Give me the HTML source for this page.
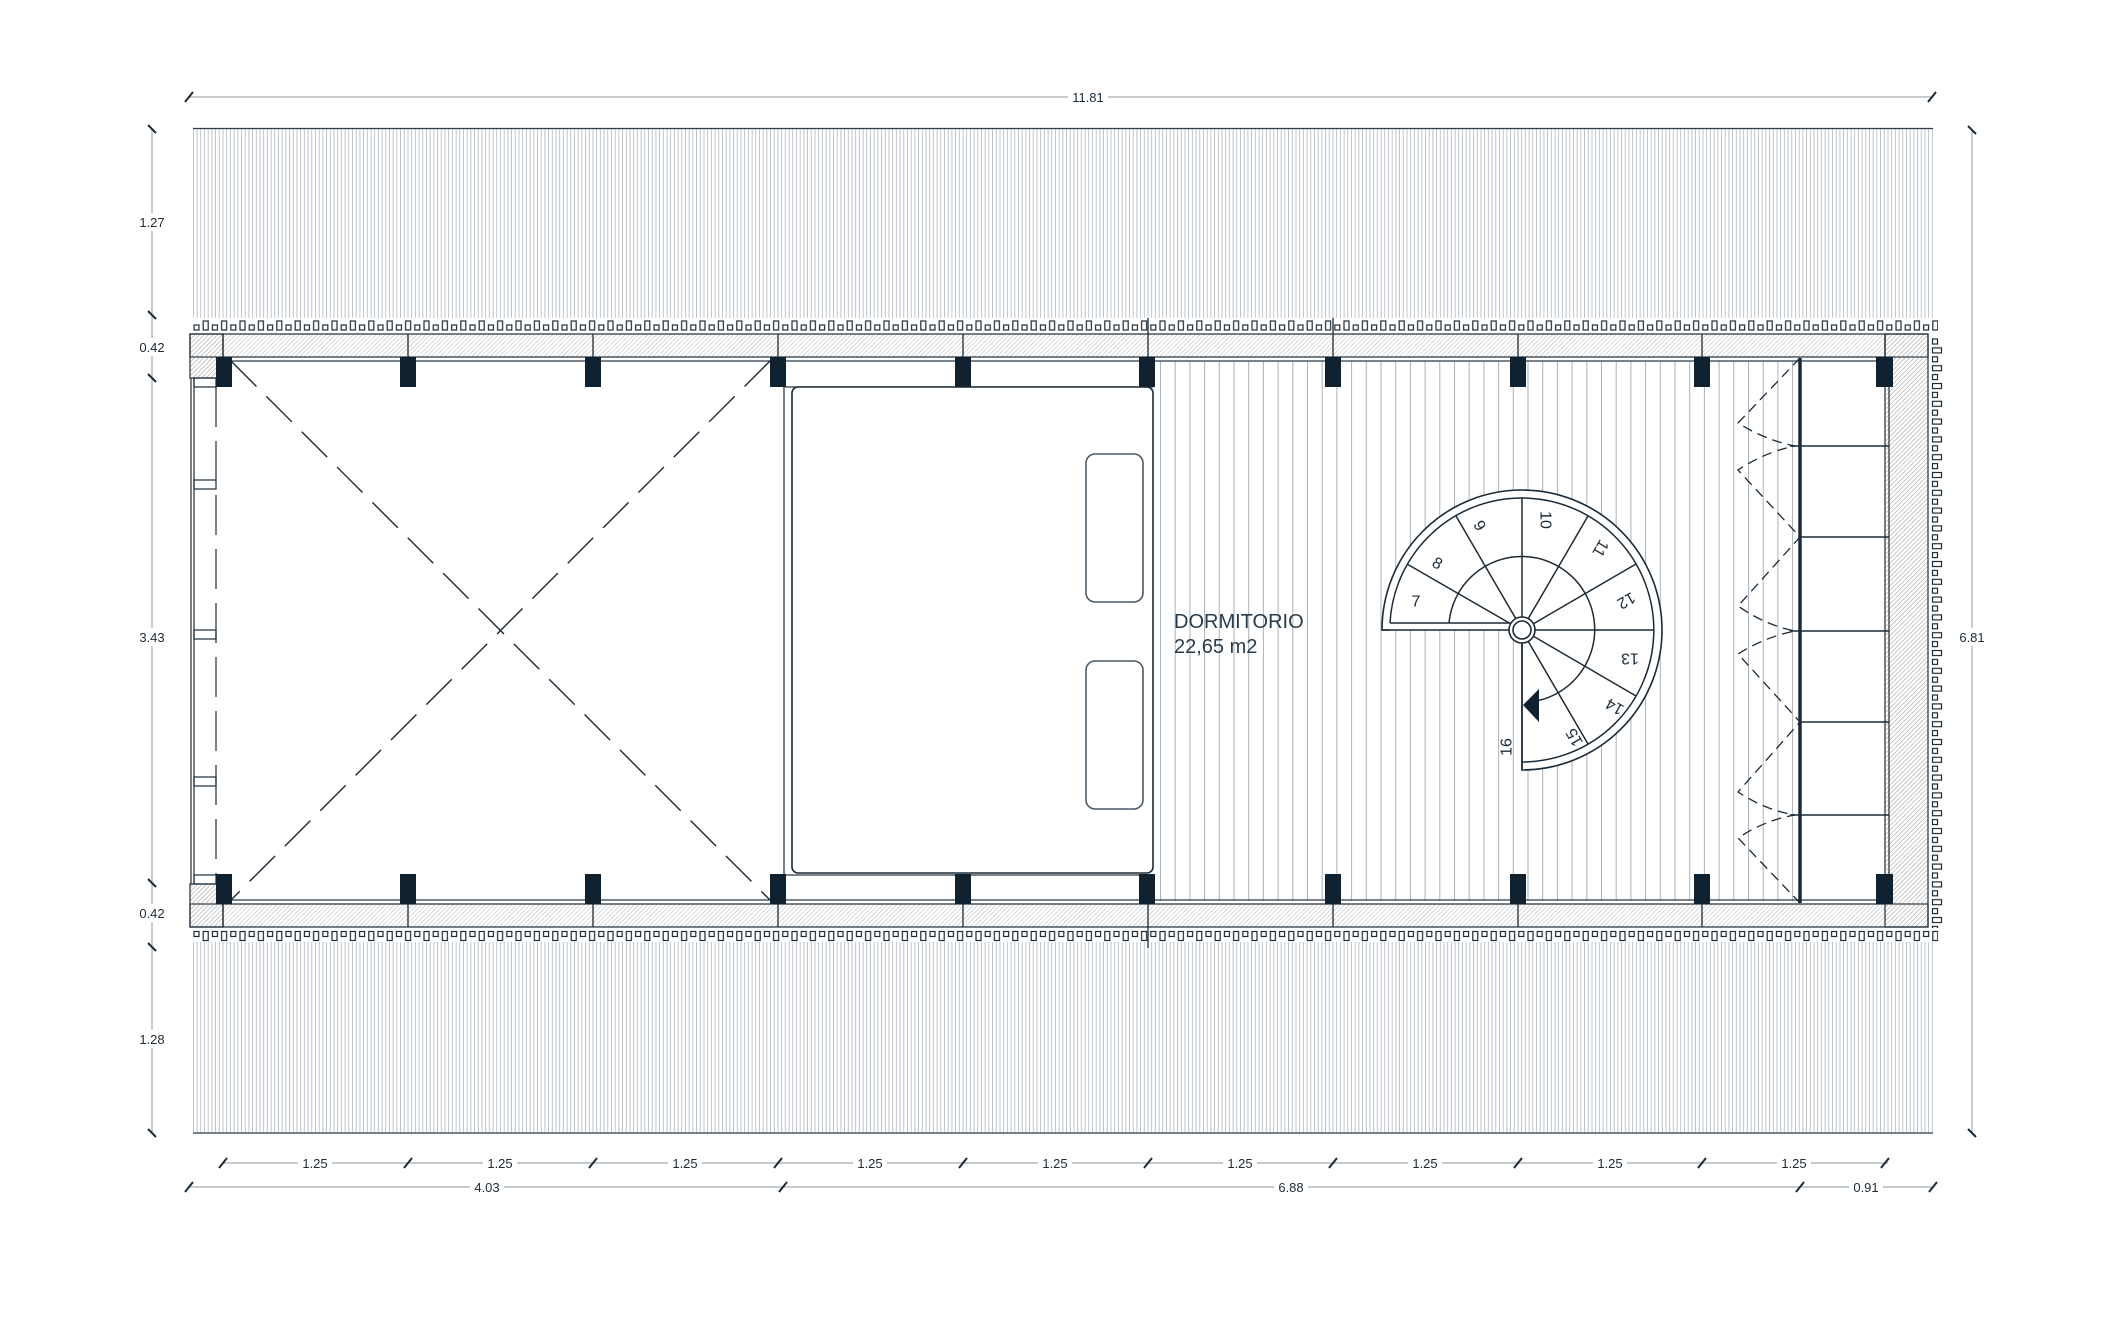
<!DOCTYPE html>
<html><head><meta charset="utf-8"><style>
html,body{margin:0;padding:0;background:#fff;}
svg{display:block;}
text{font-family:"Liberation Sans",sans-serif;fill:#1b2a36;}
</style></head><body>
<svg width="2127" height="1329" viewBox="0 0 2127 1329" xmlns="http://www.w3.org/2000/svg">
<defs>
<pattern id="roof" width="3.7" height="10" patternUnits="userSpaceOnUse"><line x1="1" y1="0" x2="1" y2="10" stroke="#a9b2bb" stroke-width="0.75"/></pattern>
<pattern id="hatch" width="3.2" height="3.2" patternUnits="userSpaceOnUse" patternTransform="rotate(45)"><line x1="0" y1="0" x2="0" y2="3.2" stroke="#9a9a9a" stroke-width="0.7"/></pattern>
<pattern id="room" width="14.7" height="10" x="1160" patternUnits="userSpaceOnUse"><line x1="0.5" y1="0" x2="0.5" y2="10" stroke="#a9b2ba" stroke-width="1"/></pattern>
<pattern id="beadT" width="18.4" height="20" x="193" y="318" patternUnits="userSpaceOnUse"><rect x="1" y="7" width="5" height="5" fill="none" stroke="#1b2a36" stroke-width="1.2"/><rect x="10.2" y="3" width="5" height="9" fill="none" stroke="#1b2a36" stroke-width="1.2"/></pattern>
<pattern id="beadB" width="18.4" height="20" x="193" y="930" patternUnits="userSpaceOnUse"><rect x="1" y="1.5" width="5" height="5" fill="none" stroke="#1b2a36" stroke-width="1.2"/><rect x="10.2" y="1.5" width="5" height="9" fill="none" stroke="#1b2a36" stroke-width="1.2"/></pattern>
<pattern id="beadR" width="20" height="17.8" x="1931" y="338" patternUnits="userSpaceOnUse"><rect x="1.5" y="1" width="5" height="5" fill="none" stroke="#1b2a36" stroke-width="1.2"/><rect x="1.5" y="9.9" width="9" height="5" fill="none" stroke="#1b2a36" stroke-width="1.2"/></pattern>
</defs>

<rect x="193" y="128" width="1740" height="194" fill="url(#roof)"/>
<line x1="193" y1="128.5" x2="1933" y2="128.5" stroke="#2c3b47" stroke-width="1.2"/>
<rect x="193" y="941" width="1740" height="192" fill="url(#roof)"/>
<line x1="193" y1="1133" x2="1933" y2="1133" stroke="#2c3b47" stroke-width="1.2"/>

<rect x="193" y="318" width="1745" height="14" fill="#fff"/>
<rect x="193" y="318" width="1745" height="14" fill="url(#beadT)"/>
<rect x="193" y="929" width="1745" height="13" fill="#fff"/>
<rect x="193" y="929" width="1745" height="13" fill="url(#beadB)"/>
<rect x="1930" y="338" width="14" height="590" fill="url(#beadR)"/>

<rect x="190" y="334" width="1738" height="593" fill="#fff"/>
<rect x="1156" y="361" width="644" height="540" fill="url(#room)"/>

<g fill="url(#hatch)" stroke="#2c3b47" stroke-width="1.3">
<rect x="190" y="334" width="1738" height="23"/>
<rect x="190" y="904" width="1738" height="23"/>
<rect x="190" y="334" width="33" height="44"/>
<rect x="190" y="884" width="33" height="43"/>
<rect x="1885" y="334" width="43" height="593"/>
</g>
<rect x="191" y="358" width="31" height="19" fill="url(#hatch)"/>
<rect x="191" y="884" width="31" height="20" fill="url(#hatch)"/>
<rect x="1886" y="356" width="41" height="550" fill="url(#hatch)"/>

<g stroke="#1b2a36" stroke-width="1.3">
<line x1="223" y1="334" x2="223" y2="357"/><line x1="408" y1="334" x2="408" y2="357"/><line x1="593" y1="334" x2="593" y2="357"/><line x1="778" y1="334" x2="778" y2="357"/><line x1="963" y1="334" x2="963" y2="357"/><line x1="1148" y1="318" x2="1148" y2="357"/><line x1="1333" y1="318" x2="1333" y2="357"/><line x1="1518" y1="334" x2="1518" y2="357"/><line x1="1702" y1="334" x2="1702" y2="357"/><line x1="1885" y1="334" x2="1885" y2="357"/>
<line x1="223" y1="904" x2="223" y2="927"/><line x1="408" y1="904" x2="408" y2="927"/><line x1="593" y1="904" x2="593" y2="927"/><line x1="778" y1="904" x2="778" y2="927"/><line x1="963" y1="904" x2="963" y2="927"/><line x1="1148" y1="904" x2="1148" y2="948"/><line x1="1333" y1="904" x2="1333" y2="927"/><line x1="1518" y1="904" x2="1518" y2="927"/><line x1="1702" y1="904" x2="1702" y2="927"/>
</g>

<g stroke="#2c3b47" stroke-width="1.3" fill="none">
<line x1="231" y1="361" x2="1876" y2="361"/>
<line x1="231" y1="900" x2="1876" y2="900"/>
<line x1="785" y1="387" x2="1153" y2="387"/>
<line x1="785" y1="875" x2="1153" y2="875"/>
<line x1="784" y1="361" x2="784" y2="900"/>
<line x1="1889" y1="387" x2="1889" y2="874"/>
<line x1="191" y1="378" x2="191" y2="884"/>
<line x1="194" y1="378" x2="194" y2="884"/>
<line x1="216" y1="387" x2="216" y2="875" stroke-dasharray="40 14"/>
<rect x="194" y="378" width="22" height="9"/>
<rect x="194" y="480" width="22" height="9"/>
<rect x="194" y="630" width="22" height="9"/>
<rect x="194" y="777" width="22" height="9"/>
<rect x="194" y="875" width="22" height="9"/>
</g>

<g stroke="#1b2a36" stroke-width="1.4" stroke-dasharray="36 14">
<line x1="231" y1="361" x2="770" y2="900"/>
<line x1="770" y1="361" x2="231" y2="900"/>
</g>

<rect x="792" y="387" width="361" height="486" rx="6" fill="#fff" stroke="#1b2a36" stroke-width="1.6"/>
<rect x="1086" y="454" width="57" height="148" rx="9" fill="none" stroke="#4a5a67" stroke-width="1.6"/>
<rect x="1086" y="661" width="57" height="148" rx="9" fill="none" stroke="#4a5a67" stroke-width="1.6"/>

<g stroke="#1b2a36" fill="none">
<line x1="1800" y1="358" x2="1800" y2="903" stroke-width="3.5"/>
<line x1="1790" y1="446" x2="1889" y2="446" stroke-width="1.6"/>
<line x1="1800" y1="537" x2="1889" y2="537" stroke-width="1.6"/>
<line x1="1790" y1="631" x2="1889" y2="631" stroke-width="1.6"/>
<line x1="1800" y1="722" x2="1889" y2="722" stroke-width="1.6"/>
<line x1="1790" y1="815" x2="1889" y2="815" stroke-width="1.6"/>
<path d="M1800,358 L1738,423 Q1765,440 1795,446 Q1765,452 1738,470 L1800,537 L1738,606 Q1765,625 1795,631 Q1765,637 1738,654 L1800,722 L1738,792 Q1765,810 1795,815 Q1765,820 1738,838 L1800,903" stroke-width="1.3" stroke-dasharray="10 6"/>
</g>

<g fill="#10222f">
<rect x="216" y="357" width="16" height="30"/><rect x="400" y="357" width="16" height="30"/><rect x="585" y="357" width="16" height="30"/><rect x="770" y="357" width="16" height="30"/><rect x="955" y="357" width="16" height="30"/><rect x="1139" y="357" width="16" height="30"/><rect x="1325" y="357" width="16" height="30"/><rect x="1510" y="357" width="16" height="30"/><rect x="1694" y="357" width="16" height="30"/><rect x="1876" y="357" width="17" height="30"/>
<rect x="216" y="874" width="16" height="30"/><rect x="400" y="874" width="16" height="30"/><rect x="585" y="874" width="16" height="30"/><rect x="770" y="874" width="16" height="30"/><rect x="955" y="874" width="16" height="30"/><rect x="1139" y="874" width="16" height="30"/><rect x="1325" y="874" width="16" height="30"/><rect x="1510" y="874" width="16" height="30"/><rect x="1694" y="874" width="16" height="30"/><rect x="1876" y="874" width="17" height="30"/>
</g>

<text x="1174" y="628" font-size="20" style="fill:#2a3b48">DORMITORIO</text>
<text x="1174" y="653" font-size="20" style="fill:#2a3b48">22,65 m2</text>

<g stroke="#1b2a36" stroke-width="1.6" fill="#fff">
<path d="M1382,630 A140,140 0 1 1 1522,770 L1522,630 Z"/>
</g>
<g stroke="#1b2a36" stroke-width="1.5" fill="none">
<path d="M1390,623 A132,132 0 1 1 1522,762"/>
<line x1="1390" y1="623" x2="1509" y2="623"/>
<line x1="1382" y1="630" x2="1390" y2="630"/>
<path d="M1449,623 A73,73 0 1 1 1530,702"/>
<line x1="1407" y1="564" x2="1511" y2="624"/>
<line x1="1456" y1="516" x2="1516" y2="619"/>
<line x1="1522" y1="498" x2="1522" y2="617"/>
<line x1="1588" y1="516" x2="1528" y2="619"/>
<line x1="1636" y1="564" x2="1533" y2="624"/>
<line x1="1654" y1="630" x2="1535" y2="630"/>
<line x1="1636" y1="696" x2="1533" y2="636"/>
<line x1="1588" y1="744" x2="1528" y2="641"/>
<line x1="1522" y1="643" x2="1522" y2="770"/>
</g>
<circle cx="1522" cy="630" r="13" fill="#fff" stroke="#1b2a36" stroke-width="1.6"/>
<circle cx="1522" cy="630" r="9" fill="#fff" stroke="#1b2a36" stroke-width="1.6"/>
<polygon points="1523,705 1539,689 1539,722" fill="#10222f"/>
<g font-size="16" text-anchor="middle" dominant-baseline="central">
<text x="1416" y="602" transform="rotate(0 1416 602)">7</text>
<text x="1437" y="564" transform="rotate(30 1437 564)">8</text>
<text x="1479" y="526" transform="rotate(60 1479 526)">9</text>
<text x="1545" y="520" transform="rotate(90 1545 520)">10</text>
<text x="1600" y="548" transform="rotate(120 1600 548)">11</text>
<text x="1626" y="600" transform="rotate(150 1626 600)">12</text>
<text x="1630" y="658" transform="rotate(180 1630 658)">13</text>
<text x="1615" y="706" transform="rotate(210 1615 706)">14</text>
<text x="1575" y="737" transform="rotate(240 1575 737)">15</text>
<text x="1507" y="747" transform="rotate(270 1507 747)">16</text>
</g>

<g stroke="#a3acb4" stroke-width="1.2">
<line x1="189" y1="97" x2="1932" y2="97"/>
<line x1="152" y1="130" x2="152" y2="1133"/>
<line x1="1972" y1="130" x2="1972" y2="1133"/>
<line x1="223" y1="1163" x2="1888" y2="1163"/>
<line x1="189" y1="1187" x2="1933" y2="1187"/>
</g>
<g stroke="#1b2a36" stroke-width="2">
<line x1="185" y1="102" x2="193" y2="92"/><line x1="1928" y1="102" x2="1936" y2="92"/>
<line x1="148" y1="125" x2="156" y2="133"/><line x1="148" y1="311" x2="156" y2="319"/><line x1="148" y1="374" x2="156" y2="382"/><line x1="148" y1="879" x2="156" y2="887"/><line x1="148" y1="943" x2="156" y2="951"/><line x1="148" y1="1129" x2="156" y2="1137"/>
<line x1="1968" y1="126" x2="1976" y2="134"/><line x1="1968" y1="1129" x2="1976" y2="1137"/>
<line x1="219" y1="1168" x2="227" y2="1158"/><line x1="404" y1="1168" x2="412" y2="1158"/><line x1="589" y1="1168" x2="597" y2="1158"/><line x1="774" y1="1168" x2="782" y2="1158"/><line x1="959" y1="1168" x2="967" y2="1158"/><line x1="1144" y1="1168" x2="1152" y2="1158"/><line x1="1329" y1="1168" x2="1337" y2="1158"/><line x1="1514" y1="1168" x2="1522" y2="1158"/><line x1="1698" y1="1168" x2="1706" y2="1158"/><line x1="1881" y1="1168" x2="1889" y2="1158"/>
<line x1="185" y1="1192" x2="193" y2="1182"/><line x1="779" y1="1192" x2="787" y2="1182"/><line x1="1796" y1="1192" x2="1804" y2="1182"/><line x1="1929" y1="1192" x2="1937" y2="1182"/>
</g>
<g fill="#fff">
<rect x="1068" y="88" width="40" height="18"/>
<rect x="136" y="213" width="32" height="18"/><rect x="136" y="338" width="32" height="18"/><rect x="136" y="628" width="32" height="18"/><rect x="136" y="904" width="32" height="18"/><rect x="136" y="1030" width="32" height="18"/>
<rect x="1956" y="628" width="32" height="18"/>
<rect x="298" y="1154" width="34" height="18"/><rect x="483" y="1154" width="34" height="18"/><rect x="668" y="1154" width="34" height="18"/><rect x="853" y="1154" width="34" height="18"/><rect x="1038" y="1154" width="34" height="18"/><rect x="1223" y="1154" width="34" height="18"/><rect x="1408" y="1154" width="34" height="18"/><rect x="1593" y="1154" width="34" height="18"/><rect x="1777" y="1154" width="34" height="18"/>
<rect x="470" y="1178" width="34" height="18"/><rect x="1274" y="1178" width="34" height="18"/><rect x="1849" y="1178" width="34" height="18"/>
</g>
<g font-size="13" text-anchor="middle">
<text x="1088" y="102">11.81</text>
<text x="152" y="227">1.27</text>
<text x="152" y="352">0.42</text>
<text x="152" y="642">3.43</text>
<text x="152" y="918">0.42</text>
<text x="152" y="1044">1.28</text>
<text x="1972" y="642">6.81</text>
<text x="315" y="1168">1.25</text><text x="500" y="1168">1.25</text><text x="685" y="1168">1.25</text><text x="870" y="1168">1.25</text><text x="1055" y="1168">1.25</text><text x="1240" y="1168">1.25</text><text x="1425" y="1168">1.25</text><text x="1610" y="1168">1.25</text><text x="1794" y="1168">1.25</text>
<text x="487" y="1192">4.03</text><text x="1291" y="1192">6.88</text><text x="1866" y="1192">0.91</text>
</g>
</svg>
</body></html>
